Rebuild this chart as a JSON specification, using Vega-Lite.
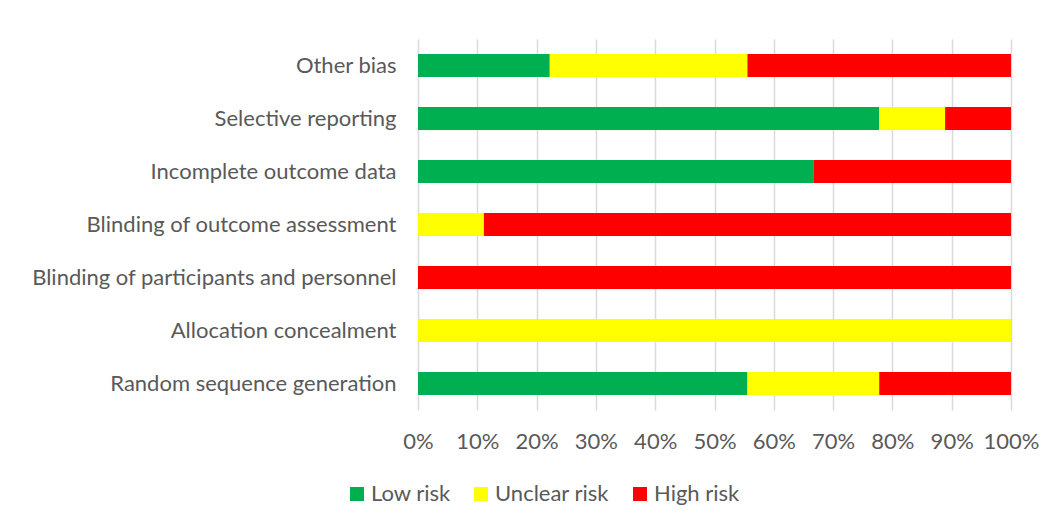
{
  "$schema": "https://vega.github.io/schema/vega-lite/v6.json",
  "autosize": "none",
  "width": 593,
  "height": 371,
  "padding": {"left": 418, "top": 39, "right": 43, "bottom": 120},
  "background": "white",
  "data": {
    "values": [
      {"domain": "Other bias", "risk": "Low risk", "o": 1, "n": 2},
      {"domain": "Other bias", "risk": "Unclear risk", "o": 2, "n": 3},
      {"domain": "Other bias", "risk": "High risk", "o": 3, "n": 4},
      {"domain": "Selective reporting", "risk": "Low risk", "o": 1, "n": 7},
      {"domain": "Selective reporting", "risk": "Unclear risk", "o": 2, "n": 1},
      {"domain": "Selective reporting", "risk": "High risk", "o": 3, "n": 1},
      {"domain": "Incomplete outcome data", "risk": "Low risk", "o": 1, "n": 6},
      {"domain": "Incomplete outcome data", "risk": "Unclear risk", "o": 2, "n": 0},
      {"domain": "Incomplete outcome data", "risk": "High risk", "o": 3, "n": 3},
      {"domain": "Blinding of outcome assessment", "risk": "Low risk", "o": 1, "n": 0},
      {"domain": "Blinding of outcome assessment", "risk": "Unclear risk", "o": 2, "n": 1},
      {"domain": "Blinding of outcome assessment", "risk": "High risk", "o": 3, "n": 8},
      {"domain": "Blinding of participants and personnel", "risk": "Low risk", "o": 1, "n": 0},
      {"domain": "Blinding of participants and personnel", "risk": "Unclear risk", "o": 2, "n": 0},
      {"domain": "Blinding of participants and personnel", "risk": "High risk", "o": 3, "n": 9},
      {"domain": "Allocation concealment", "risk": "Low risk", "o": 1, "n": 0},
      {"domain": "Allocation concealment", "risk": "Unclear risk", "o": 2, "n": 9},
      {"domain": "Allocation concealment", "risk": "High risk", "o": 3, "n": 0},
      {"domain": "Random sequence generation", "risk": "Low risk", "o": 1, "n": 5},
      {"domain": "Random sequence generation", "risk": "Unclear risk", "o": 2, "n": 2},
      {"domain": "Random sequence generation", "risk": "High risk", "o": 3, "n": 2}
    ]
  },
  "mark": {"type": "bar"},
  "encoding": {
    "y": {
      "field": "domain",
      "type": "nominal",
      "sort": ["Other bias", "Selective reporting", "Incomplete outcome data", "Blinding of outcome assessment", "Blinding of participants and personnel", "Allocation concealment", "Random sequence generation"],
      "scale": {"paddingInner": 0.566, "paddingOuter": 0.283},
      "axis": {
        "title": null,
        "domain": false,
        "ticks": false,
        "labelPadding": 22,
        "labelFont": "Lato",
        "labelFontSize": 22,
        "labelColor": "#595959",
        "labelLimit": 500
      }
    },
    "x": {
      "field": "n",
      "type": "quantitative",
      "stack": "normalize",
      "scale": {"domain": [0, 1], "nice": false},
      "axis": {
        "title": null,
        "format": ".0%",
        "values": [0, 0.1, 0.2, 0.3, 0.4, 0.5, 0.6, 0.7, 0.8, 0.9, 1],
        "domain": false,
        "ticks": false,
        "grid": true,
        "gridColor": "#d9d9d9",
        "gridWidth": 1.5,
        "labelPadding": 21,
        "labelFont": "Lato",
        "labelFontSize": 22,
        "labelColor": "#595959",
        "labelFlush": false
      }
    },
    "color": {
      "field": "risk",
      "type": "nominal",
      "scale": {"domain": ["Low risk", "Unclear risk", "High risk"], "range": ["#00B050", "#FFFF00", "#FF0000"]},
      "legend": {
        "title": null,
        "orient": "none",
        "direction": "horizontal",
        "legendX": -72,
        "legendY": 444,
        "symbolType": "square",
        "symbolSize": 196,
        "symbolStrokeWidth": 0,
        "symbolOpacity": 1,
        "labelFont": "Lato",
        "labelFontSize": 22,
        "labelColor": "#595959",
        "labelOffset": 3,
        "columnPadding": 19
      }
    },
    "order": {"field": "o", "type": "quantitative"}
  },
  "config": {"view": {"stroke": null}}
}
